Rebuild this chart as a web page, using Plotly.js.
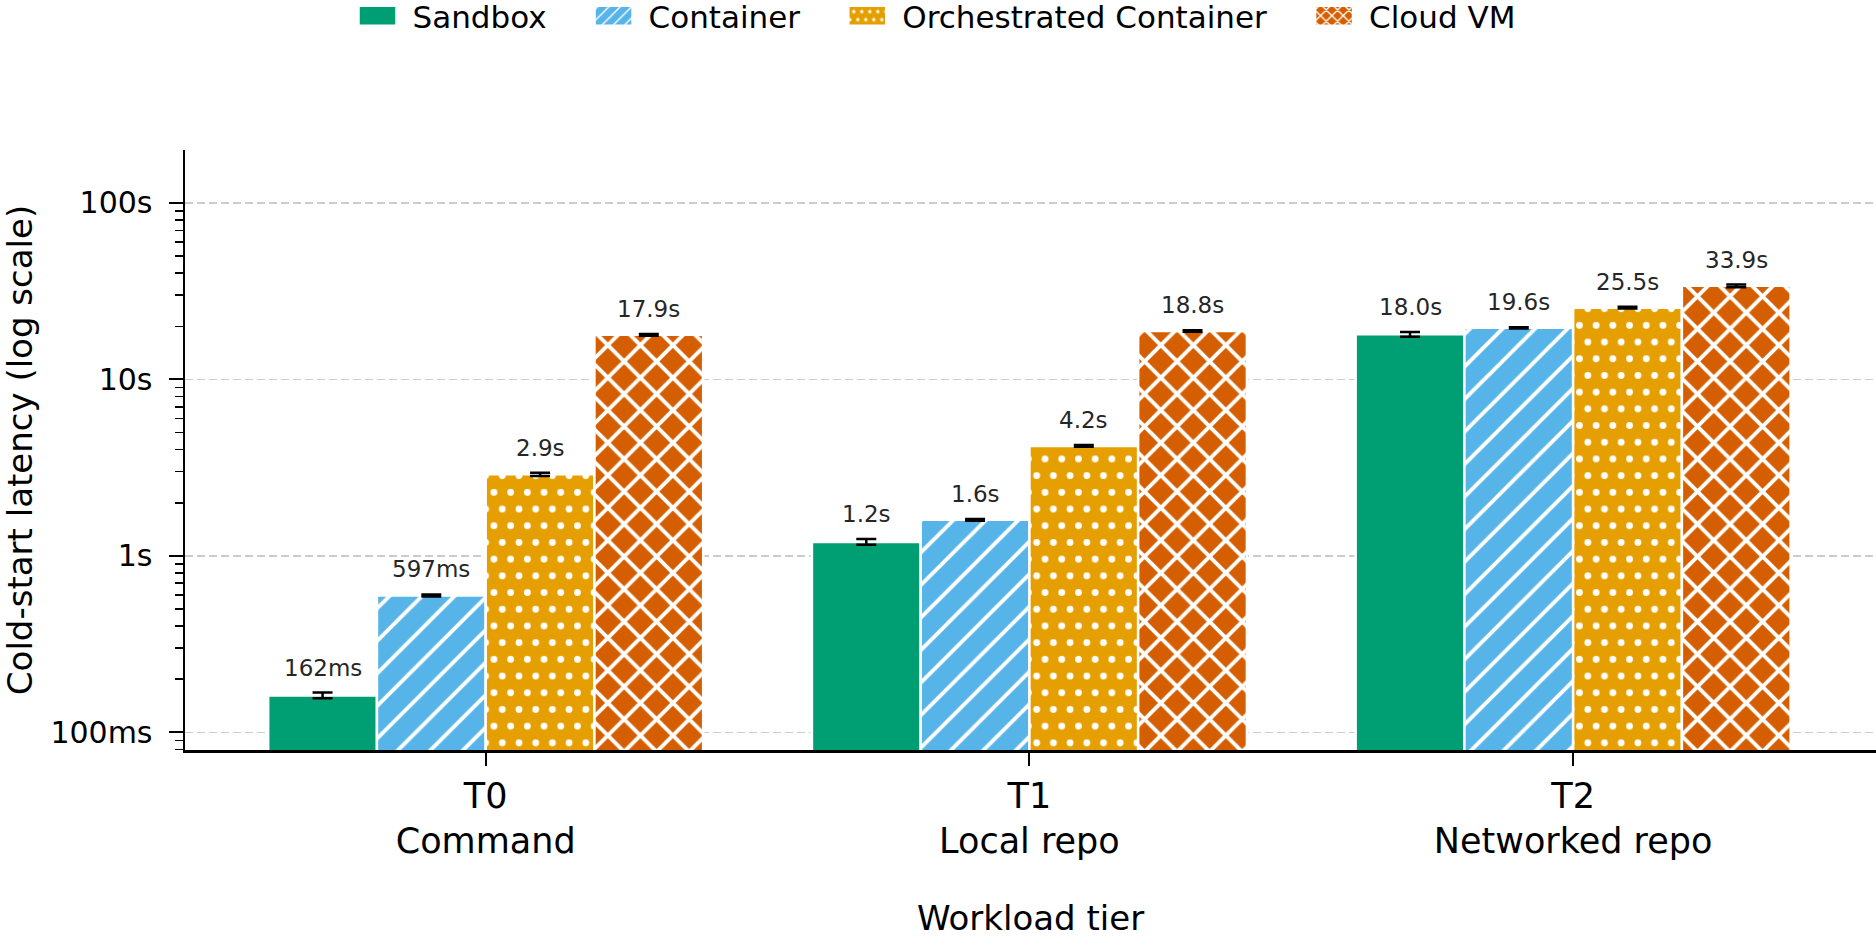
<!DOCTYPE html>
<html>
<head>
<meta charset="utf-8">
<script src="https://cdn.plot.ly/plotly-3.0.1.min.js"></script>
<style>
  html, body { margin: 0; padding: 0; background: #ffffff; }
  #chart { width: 1876px; height: 938px; }
</style>
</head>
<body>
<div id="chart"></div>
<script>
// Workload tiers (x categories)
const tiers = ['T0<br>Command', 'T1<br>Local repo', 'T2<br>Networked repo'];

// Environment names (legend order)
const seriesNames = ['Sandbox', 'Container', 'Orchestrated Container', 'Cloud VM'];

// Mean cold-start latency in seconds, per tier
const sandbox      = [0.162, 1.2, 18.0];
const container    = [0.597, 1.6, 19.6];
const orchestrated = [2.9, 4.2, 25.5];
const cloudVM      = [17.9, 18.8, 33.9];

// Error bar half-widths in seconds, per tier
const sandboxErr      = [0.006, 0.045, 0.55];
const containerErr    = [0.008, 0.02, 0.18];
const orchestratedErr = [0.06, 0.05, 0.3];
const cloudVMErr      = [0.2, 0.18, 0.6];

// Y axis tick labels
const yTickVals = [0.1, 1, 10, 100];
const yTickText = ['100ms', '1s', '10s', '100s'];

const values = [sandbox, container, orchestrated, cloudVM];
const errors = [sandboxErr, containerErr, orchestratedErr, cloudVMErr];

const FONT = 'DejaVu Sans';
const BARGAP = 0.2;

// Colour and fill pattern for each environment
const looks = [
  { color: '#009E73', pattern: null },
  { color: '#56B4E9', pattern: { shape: '/', size: 23, solidity: 0.17 } },
  { color: '#E69F00', pattern: { shape: '.', size: 16.7, solidity: 0.13 } },
  { color: '#D55E00', pattern: { shape: 'x', size: 23, solidity: 0.31 } }
];

function fmtLatency(v) {
  return v < 1 ? Math.round(v * 1000) + 'ms' : v.toFixed(1) + 's';
}

const data = seriesNames.map((name, j) => {
  const look = looks[j];
  const marker = { color: look.color, line: { color: '#ffffff', width: 2.5 } };
  if (look.pattern) {
    marker.pattern = Object.assign({ fgcolor: '#ffffff', bgcolor: look.color, fillmode: 'replace' }, look.pattern);
  }
  return {
    type: 'bar',
    name: name,
    x: tiers,
    y: values[j],
    marker: marker,
    error_y: { type: 'data', array: errors[j], visible: true, color: '#000000', thickness: 2.5, width: 10 },
    hoverinfo: 'skip'
  };
});

// Value labels above each bar, placed at the bar's slot in its group
const nSeries = seriesNames.length;
const slot = (1 - BARGAP) / nSeries;
const annotations = [];
values.forEach((arr, j) => {
  arr.forEach((v, i) => {
    annotations.push({
      xref: 'x', yref: 'y',
      x: i + (j - (nSeries - 1) / 2) * slot,
      y: Math.log10(v + errors[j][i]),
      text: fmtLatency(v),
      showarrow: false,
      xanchor: 'center', yanchor: 'bottom',
      yshift: 10,
      font: { family: FONT, size: 23, color: '#262626' }
    });
  });
});

// Minor log ticks (2..9 within each decade) inside the visible range
const yRange = [-1.1, 2.3];
const minorVals = [];
for (let d = -2; d <= 2; d++) {
  for (let m = 2; m <= 9; m++) {
    const t = m * Math.pow(10, d);
    const lt = Math.log10(t);
    if (lt >= yRange[0] && lt <= yRange[1]) minorVals.push(t);
  }
}

const layout = {
  width: 1876,
  height: 938,
  margin: { l: 185, r: 0, t: 150, b: 188, pad: 0 },
  paper_bgcolor: '#ffffff',
  plot_bgcolor: '#ffffff',
  font: { family: FONT, color: '#000000' },
  barmode: 'group',
  bargap: BARGAP,
  bargroupgap: 0,
  showlegend: true,
  legend: {
    orientation: 'h',
    xref: 'container', yref: 'container',
    x: 0.5 - 20 / 1876, xanchor: 'center',
    y: 1 - 16 / 938, yanchor: 'middle',
    font: { family: FONT, size: 31, color: '#000000' },
    itemwidth: 87,
    traceorder: 'normal',
    bgcolor: 'rgba(0,0,0,0)'
  },
  xaxis: {
    type: 'category',
    range: [-0.553, 2.557],
    showline: true, linecolor: '#000000', linewidth: 2.5,
    ticks: 'outside', ticklen: 13, tickwidth: 2, tickcolor: '#000000',
    tickfont: { family: FONT, size: 35, color: '#000000' },
    showgrid: false, zeroline: false,
    title: { text: 'Workload tier', font: { family: FONT, size: 34, color: '#000000' }, standoff: 49 }
  },
  yaxis: {
    type: 'log',
    range: yRange,
    tickmode: 'array',
    tickvals: yTickVals,
    ticktext: yTickText,
    ticks: 'outside', ticklen: 14, tickwidth: 2, tickcolor: '#000000',
    ticklabelstandoff: 10,
    tickfont: { family: FONT, size: 30, color: '#000000' },
    showline: true, linecolor: '#000000', linewidth: 2.5,
    showgrid: true, gridcolor: '#cccccc', gridwidth: 1.3, griddash: '8px,4px',
    zeroline: false,
    minor: { tickmode: 'array', tickvals: minorVals, ticks: 'outside', ticklen: 8, tickwidth: 1.5, tickcolor: '#000000', showgrid: false },
    title: { text: 'Cold-start latency (log scale)', font: { family: FONT, size: 34, color: '#000000' }, standoff: 24 }
  },
  annotations: annotations
};

// Wide rectangular legend swatches, sitting just left of each legend label
function widenSwatches(gd) {
  gd.querySelectorAll('g.legend g.traces').forEach(tr => {
    const txt = tr.querySelector('text.legendtext');
    const path = tr.querySelector('g.legendpoints path');
    if (!txt || !path || path.dataset.wide) return;
    const pr = path.getBoundingClientRect();
    const cx = (pr.left + pr.right) / 2;
    const tl = txt.getBoundingClientRect().left;
    const right = tl - 16 - cx;
    const left = right - 38;
    path.setAttribute('d', 'M' + right + ',10H' + left + 'V-10H' + right + 'Z');
    path.dataset.wide = '1';
  });
}

// Staggered rows for the dotted fill
function staggerDots(gd) {
  gd.querySelectorAll('pattern').forEach(pat => {
    const c = pat.querySelector('circle');
    if (!c || pat.dataset.stag) return;
    const w = parseFloat(pat.getAttribute('width'));
    const h = parseFloat(pat.getAttribute('height'));
    pat.setAttribute('height', 2 * h);
    pat.querySelectorAll('rect').forEach(r => r.setAttribute('height', 2 * h));
    c.setAttribute('cx', w / 2);
    c.setAttribute('cy', h / 2);
    [[0, 1.5 * h], [w, 1.5 * h]].forEach(([x, y]) => {
      const n = c.cloneNode();
      n.setAttribute('cx', x);
      n.setAttribute('cy', y);
      pat.appendChild(n);
    });
    pat.dataset.stag = '1';
  });
}

function finish(gd) {
  widenSwatches(gd);
  staggerDots(gd);
}

Plotly.newPlot('chart', data, layout, { staticPlot: true, displayModeBar: false }).then(gd => {
  finish(gd);
  gd.on('plotly_afterplot', () => finish(gd));
  setTimeout(() => finish(gd), 30);
});
</script>
</body>
</html>
